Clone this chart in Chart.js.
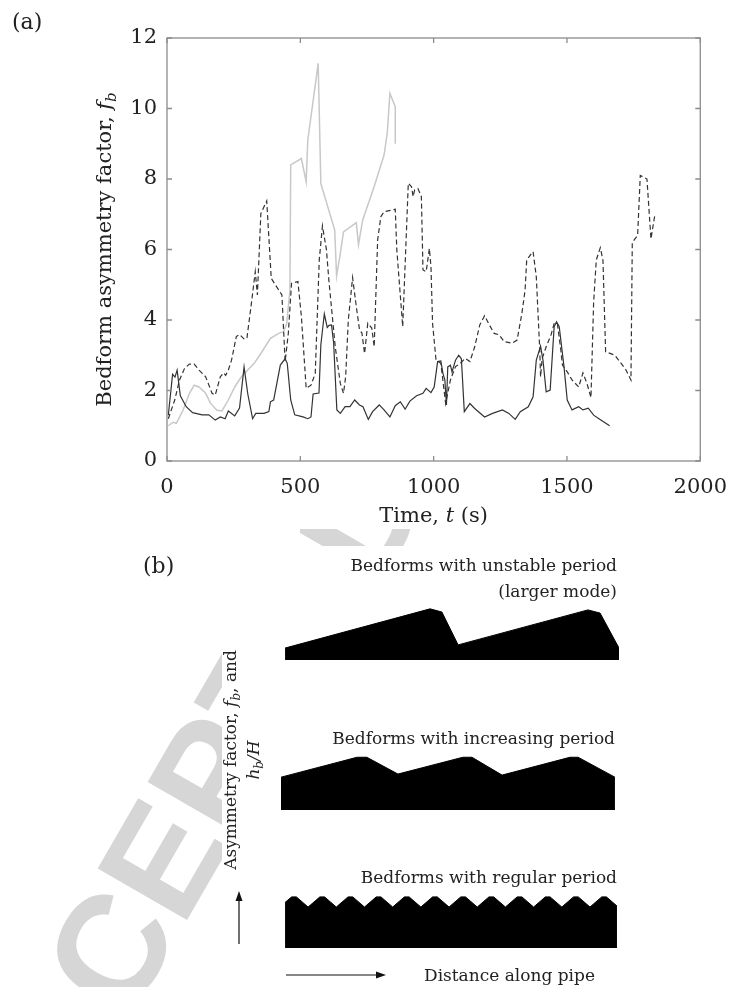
<!DOCTYPE html>
<html>
<head>
<meta charset="utf-8">
<script src="https://cdn.jsdelivr.net/npm/chart.js@4.4.1/dist/chart.umd.min.js"></script>
<style>
  html, body { margin: 0; padding: 0; background: #fff; }
  #page { position: relative; width: 741px; height: 987px; overflow: hidden; }
  .stamp { position: absolute; overflow: hidden; }
  .stamp span { position: absolute; line-height: 150px; font: bold 150px "Liberation Sans", sans-serif; color: #d6d6d6; white-space: nowrap; transform-origin: 0 50%; transform: rotate(-60deg); }
  #boxA { position: absolute; left: 0; top: 0; }
  #boxB { position: absolute; left: 0; top: 540px; }
</style>
</head>
<body>
<div id="page">
  <div class="stamp" style="left:0;top:546px;width:222px;height:441px"><span style="left:-25px;top:552px">ACCEPTED MANUSCRIPT</span></div>
  <div class="stamp" style="left:300px;top:529px;width:220px;height:17px"><span style="left:-325px;top:569px">ACCEPTED MANUSCRIPT</span></div>
  <canvas id="boxA" width="741" height="540"></canvas>
  <canvas id="boxB" width="741" height="447"></canvas>
</div>
<script>
// (a) asymmetry factor time series
const timeTicks = [0, 500, 1000, 1500, 2000];
const factorTicks = [0, 2, 4, 6, 8, 10, 12];

const solidTime = [5, 21, 30, 38, 50, 72, 96, 132, 157, 181, 200, 218, 230, 254, 272, 289, 303, 321, 333, 364, 382, 388, 400, 425, 443, 451, 464, 479, 510, 528, 540, 548, 570, 577, 590, 601, 608, 617, 625, 637, 650, 668, 686, 704, 722, 735, 755, 771, 796, 814, 836, 856, 875, 893, 911, 936, 960, 972, 990, 1002, 1015, 1027, 1035, 1042, 1048, 1053, 1063, 1069, 1082, 1094, 1104, 1115, 1136, 1154, 1191, 1221, 1258, 1282, 1306, 1325, 1355, 1373, 1385, 1401, 1410, 1422, 1437, 1452, 1461, 1471, 1489, 1501, 1519, 1544, 1560, 1580, 1600, 1620, 1640, 1660];
const solidValue = [1.3, 2.46, 2.38, 2.58, 1.85, 1.54, 1.37, 1.31, 1.31, 1.16, 1.25, 1.2, 1.42, 1.28, 1.5, 2.67, 1.9, 1.2, 1.35, 1.35, 1.4, 1.68, 1.73, 2.72, 2.9, 2.77, 1.73, 1.31, 1.25, 1.2, 1.25, 1.9, 1.93, 3.3, 4.17, 3.79, 3.85, 3.86, 3.34, 1.45, 1.35, 1.54, 1.54, 1.73, 1.59, 1.54, 1.18, 1.4, 1.59, 1.45, 1.25, 1.57, 1.68, 1.47, 1.7, 1.85, 1.92, 2.06, 1.94, 2.1, 2.82, 2.84, 2.48, 2.3, 1.59, 2.67, 2.72, 2.53, 2.86, 3.0, 2.9, 1.4, 1.63, 1.49, 1.25, 1.35, 1.45, 1.35, 1.18, 1.4, 1.54, 1.82, 2.86, 3.26, 2.86, 1.96, 2.01, 3.81, 3.95, 3.81, 2.67, 1.73, 1.45, 1.54, 1.45, 1.5, 1.3, 1.2, 1.1, 1.0];

const dashTime = [5, 29, 47, 66, 84, 102, 120, 145, 169, 181, 200, 212, 220, 230, 242, 260, 272, 291, 300, 315, 331, 339, 352, 374, 391, 431, 443, 455, 467, 491, 504, 522, 540, 556, 571, 583, 598, 607, 631, 650, 662, 670, 680, 696, 710, 722, 731, 741, 753, 768, 777, 790, 802, 814, 856, 862, 884, 905, 917, 923, 929, 941, 954, 960, 972, 984, 990, 996, 1009, 1027, 1045, 1063, 1082, 1100, 1118, 1136, 1154, 1173, 1191, 1209, 1227, 1246, 1264, 1294, 1313, 1331, 1343, 1349, 1367, 1373, 1385, 1398, 1401, 1407, 1422, 1440, 1452, 1464, 1477, 1483, 1501, 1519, 1544, 1560, 1575, 1590, 1600, 1610, 1625, 1635, 1645, 1680, 1720, 1740, 1745, 1765, 1775, 1800, 1815, 1830];
const dashValue = [1.2, 1.73, 2.3, 2.63, 2.75, 2.75, 2.58, 2.39, 1.92, 1.87, 2.39, 2.5, 2.43, 2.58, 2.86, 3.53, 3.59, 3.45, 3.5, 4.38, 5.37, 4.71, 7.02, 7.38, 5.18, 4.71, 2.82, 3.62, 5.04, 5.09, 4.1, 2.06, 2.15, 2.48, 5.7, 6.67, 5.99, 5.13, 3.24, 2.2, 1.92, 2.39, 4.0, 5.2, 4.38, 3.72, 3.63, 3.05, 3.91, 3.77, 3.24, 6.27, 6.93, 7.07, 7.14, 5.98, 3.81, 7.88, 7.78, 7.5, 7.69, 7.73, 7.5, 5.42, 5.37, 6.03, 5.51, 3.9, 2.86, 2.77, 1.63, 2.3, 2.68, 2.77, 2.91, 2.82, 3.24, 3.86, 4.12, 3.86, 3.62, 3.58, 3.39, 3.34, 3.43, 4.19, 4.85, 5.7, 5.89, 5.94, 5.23, 3.15, 2.39, 2.91, 3.24, 3.57, 3.9, 3.9, 3.15, 2.72, 2.53, 2.3, 2.1, 2.5, 2.2, 1.8, 4.5, 5.7, 6.05, 5.7, 3.1, 3.0, 2.6, 2.3, 6.2, 6.4, 8.1, 8.0, 6.3, 7.0];

const grayTime = [5, 23, 35, 60, 84, 102, 120, 145, 163, 187, 206, 230, 254, 279, 303, 327, 352, 388, 419, 437, 449, 461, 464, 504, 522, 528, 567, 577, 629, 636, 648, 662, 710, 718, 734, 777, 814, 826, 836, 856, 856];
const grayValue = [1.0, 1.1, 1.07, 1.44, 1.92, 2.15, 2.1, 1.92, 1.64, 1.44, 1.42, 1.73, 2.1, 2.39, 2.58, 2.77, 3.05, 3.48, 3.62, 3.67, 3.9, 4.85, 8.4, 8.58, 7.92, 9.1, 11.28, 7.87, 6.55, 5.25, 5.8, 6.5, 6.76, 6.13, 6.84, 7.79, 8.68, 9.3, 10.43, 10.05, 9.0];

// (b) schematic bed profiles: distance along pipe and height above each row's base
const rowBase = [82.3, 39.4, 0];
const unstableX = [1.2, 44.1, 47.6, 52.4, 90.8, 94.4, 100];
const unstableH = [3.4, 14.6, 13.7, 4.3, 14.3, 13.4, 3.4];
const increasingX = [0, 22.5, 25.4, 34.6, 53.8, 56.5, 65.4, 85.5, 87.9, 98.8];
const increasingH = [9.4, 15.1, 15.1, 10.3, 15.1, 15.1, 10.0, 15.1, 15.1, 9.4];
const regularX = [1.2, 3.15, 4.55, 8.02, 11.49, 12.89, 16.36, 19.83, 21.23, 24.7, 28.17, 29.57, 33.04, 36.51, 37.91, 41.38, 44.85, 46.25, 49.72, 53.19, 54.59, 58.06, 61.53, 62.93, 66.4, 69.87, 71.27, 74.74, 78.21, 79.61, 83.08, 86.55, 87.95, 91.42, 94.89, 96.29, 99.4];
const regularH = [13.0, 14.6, 14.6, 11.7, 14.6, 14.6, 11.7, 14.6, 14.6, 11.7, 14.6, 14.6, 11.7, 14.6, 14.6, 11.7, 14.6, 14.6, 11.7, 14.6, 14.6, 11.7, 14.6, 14.6, 11.7, 14.6, 14.6, 11.7, 14.6, 14.6, 11.7, 14.6, 14.6, 11.7, 14.6, 14.6, 12.0];

const SERIF = '"DejaVu Serif", serif';
const INK = '#222';

function pairs(xs, ys) {
  return xs.map((x, i) => ({ x: x, y: ys[i] }));
}

// text with italic / subscript pieces, e.g. f_b
function drawRich(ctx, parts, x, y, size, align) {
  const fontOf = st => (st.indexOf('i') >= 0 ? 'italic ' : '') + (st.indexOf('s') >= 0 ? Math.round(size * 0.7) : size) + 'px ' + SERIF;
  let total = 0;
  parts.forEach(p => { ctx.font = fontOf(p[1]); total += ctx.measureText(p[0]).width; });
  let cx = align === 'center' ? x - total / 2 : (align === 'right' ? x - total : x);
  ctx.textAlign = 'left';
  ctx.textBaseline = 'alphabetic';
  parts.forEach(p => {
    ctx.font = fontOf(p[1]);
    ctx.fillText(p[0], cx, y + (p[1].indexOf('s') >= 0 ? size * 0.24 : 0));
    cx += ctx.measureText(p[0]).width;
  });
}

const frameA = {
  id: 'frameA',
  afterDraw(chart) {
    const ctx = chart.ctx, a = chart.chartArea, x = chart.scales.x, y = chart.scales.y;
    ctx.save();
    ctx.strokeStyle = '#8c8c8c';
    ctx.lineWidth = 1.3;
    ctx.strokeRect(a.left, a.top, a.right - a.left, a.bottom - a.top);
    ctx.beginPath();
    timeTicks.forEach(v => {
      const px = x.getPixelForValue(v);
      ctx.moveTo(px, a.bottom); ctx.lineTo(px, a.bottom - 5);
      ctx.moveTo(px, a.top); ctx.lineTo(px, a.top + 5);
    });
    factorTicks.forEach(v => {
      const py = y.getPixelForValue(v);
      ctx.moveTo(a.left, py); ctx.lineTo(a.left + 5, py);
      ctx.moveTo(a.right, py); ctx.lineTo(a.right - 5, py);
    });
    ctx.stroke();

    ctx.fillStyle = INK;
    drawRich(ctx, [['Time, ', ''], ['t', 'i'], [' (s)', '']], (a.left + a.right) / 2, 522, 21, 'center');
    ctx.translate(111, (a.top + a.bottom) / 2);
    ctx.rotate(-Math.PI / 2);
    drawRich(ctx, [['Bedform asymmetry factor, ', ''], ['f', 'i'], ['b', 'is']], 0, 0, 21, 'center');
    ctx.restore();

    ctx.save();
    ctx.fillStyle = INK;
    drawRich(ctx, [['(a)', '']], 12, 29, 22, 'left');
    ctx.restore();
  }
};

new Chart(document.getElementById('boxA'), {
  type: 'scatter',
  data: {
    datasets: [
      { data: pairs(solidTime, solidValue), showLine: true, borderColor: '#333', borderWidth: 1.2, pointRadius: 0, tension: 0 },
      { data: pairs(dashTime, dashValue), showLine: true, borderColor: '#333', borderWidth: 1.2, borderDash: [5, 3], pointRadius: 0, tension: 0 },
      { data: pairs(grayTime, grayValue), showLine: true, borderColor: '#c8c8c8', borderWidth: 1.5, pointRadius: 0, tension: 0 }
    ]
  },
  options: {
    responsive: false,
    animation: false,
    devicePixelRatio: 1,
    layout: { padding: { left: 0, right: 27, top: 38, bottom: 0 } },
    plugins: { legend: { display: false }, tooltip: { enabled: false } },
    scales: {
      x: {
        type: 'linear', min: 0, max: 2000,
        afterBuildTicks: s => { s.ticks = timeTicks.map(v => ({ value: v })); },
        afterFit: s => { s.height = 79; },
        grid: { display: false, drawTicks: false },
        border: { display: false },
        ticks: { padding: 14, color: INK, font: { family: SERIF, size: 21 }, callback: v => String(v) }
      },
      y: {
        type: 'linear', min: 0, max: 12,
        afterBuildTicks: s => { s.ticks = factorTicks.map(v => ({ value: v })); },
        afterFit: s => { s.width = 167; },
        grid: { display: false, drawTicks: false },
        border: { display: false },
        ticks: { padding: 10, color: INK, font: { family: SERIF, size: 21 }, callback: v => String(v) }
      }
    }
  },
  plugins: [frameA]
});

// (b) labels and arrows around the profiles
const notesB = {
  id: 'notesB',
  afterDraw(chart) {
    const ctx = chart.ctx, a = chart.chartArea;
    ctx.save();
    ctx.fillStyle = INK;
    drawRich(ctx, [['(b)', '']], 143, 33, 22, 'left');
    drawRich(ctx, [['Bedforms with unstable period', '']], 617, 31, 17, 'right');
    drawRich(ctx, [['(larger mode)', '']], 617, 57, 17, 'right');
    drawRich(ctx, [['Bedforms with increasing period', '']], 615, 204, 17, 'right');
    drawRich(ctx, [['Bedforms with regular period', '']], 617, 343, 17, 'right');
    drawRich(ctx, [['Distance along pipe', '']], 424, 441, 17, 'left');

    ctx.save();
    ctx.translate(236, 220);
    ctx.rotate(-Math.PI / 2);
    drawRich(ctx, [['Asymmetry factor, ', ''], ['f', 'i'], ['b', 'is'], [', and', '']], 0, 0, 17, 'center');
    ctx.restore();
    ctx.save();
    ctx.translate(259, 220);
    ctx.rotate(-Math.PI / 2);
    drawRich(ctx, [['h', 'i'], ['b', 'is'], ['/', 'i'], ['H', 'i']], 0, 0, 17, 'center');
    ctx.restore();

    // axis arrows
    ctx.strokeStyle = '#111';
    ctx.lineWidth = 1.2;
    ctx.beginPath();
    ctx.moveTo(239, a.bottom - 4); ctx.lineTo(239, a.bottom - 48);
    ctx.moveTo(286, 435); ctx.lineTo(378, 435);
    ctx.stroke();
    ctx.beginPath();
    ctx.moveTo(239, a.bottom - 57); ctx.lineTo(235.5, a.bottom - 47); ctx.lineTo(242.5, a.bottom - 47); ctx.closePath();
    ctx.moveTo(386, 435); ctx.lineTo(376, 431.5); ctx.lineTo(376, 438.5); ctx.closePath();
    ctx.fillStyle = '#111';
    ctx.fill();
    ctx.restore();
  }
};

function profile(xs, hs, base) {
  return {
    data: pairs(xs, hs.map(h => h + base)),
    borderColor: '#000', borderWidth: 1, backgroundColor: '#000',
    pointRadius: 0, tension: 0, fill: { value: base }
  };
}

new Chart(document.getElementById('boxB'), {
  type: 'line',
  data: {
    datasets: [
      profile(unstableX, unstableH, rowBase[0]),
      profile(increasingX, increasingH, rowBase[1]),
      profile(regularX, regularH, rowBase[2])
    ]
  },
  options: {
    responsive: false,
    animation: false,
    devicePixelRatio: 1,
    layout: { padding: { left: 281, right: 122, top: 58, bottom: 39 } },
    plugins: { legend: { display: false }, tooltip: { enabled: false } },
    scales: {
      x: { type: 'linear', min: 0, max: 100, display: false },
      y: { type: 'linear', min: 0, max: 100, display: false }
    }
  },
  plugins: [notesB]
});
</script>
</body>
</html>
